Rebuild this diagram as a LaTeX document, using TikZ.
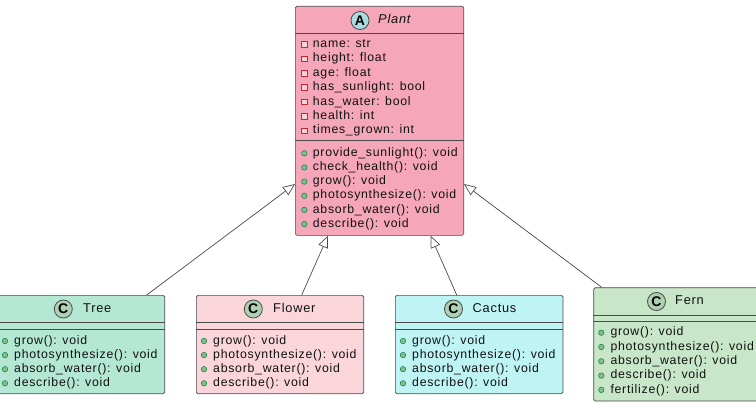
\documentclass[tikz,border=0pt]{standalone}
\usepackage{fontspec}
\setmainfont{Liberation Sans}[LetterSpace=6]
\usetikzlibrary{arrows.meta,calc}
\definecolor{plantC}{HTML}{F5A7B9}
\definecolor{treeC}{HTML}{B4E8D4}
\definecolor{flowerC}{HTML}{FAD5DA}
\definecolor{cactusC}{HTML}{BFF4F5}
\definecolor{fernC}{HTML}{C8E6C8}
\definecolor{absC}{HTML}{A9DCDF}
\definecolor{clsC}{HTML}{ADD1B2}
\definecolor{lineC}{HTML}{4A4A4A}
\definecolor{privR}{HTML}{C82930}
\definecolor{privF}{HTML}{F6D3D6}
\definecolor{pubG}{HTML}{038048}
\definecolor{pubF}{HTML}{84BE84}
\definecolor{txtC}{HTML}{111111}
\begin{document}
\begin{tikzpicture}[x=1pt,y=-1pt,
  umlbox/.style={draw=lineC, line width=0.7pt, rounded corners=1.5pt, anchor=north west, inner sep=0pt},
  sepline/.style={draw=lineC, line width=0.7pt},
  mem/.style={anchor=west, inner sep=0pt, text height=9pt, text depth=2.6pt, text=txtC, font=\fontsize{12.3}{14}\selectfont},
  hdr/.style={anchor=west, inner sep=0pt, text height=9pt, text depth=2.6pt, text=txtC, font=\fontsize{12.8}{14}\selectfont},
  privicon/.style={draw=privR, fill=privF, line width=0.6pt, minimum size=5.5pt, inner sep=0pt},
  pubicon/.style={circle, draw=pubG, fill=pubF, line width=0.5pt, minimum size=5.5pt, inner sep=0pt},
  spot/.style={circle, draw=lineC, line width=0.8pt, minimum size=18pt, inner sep=0pt, font=\fontsize{14}{14}\selectfont\bfseries},
  inh/.style={draw=lineC, line width=0.7pt, -{Triangle[open, length=12pt, width=10pt]}}
]
\useasboundingbox (0,0) rectangle (756,404);

% ---------- Plant ----------
\node[umlbox, fill=plantC, minimum width=168.3pt, minimum height=229pt] (plant) at (295,6) {};
\draw[sepline] ($(plant.north west)+(0,27.3)$) -- ($(plant.north east)+(0,27.3)$);
\draw[sepline] ($(plant.north west)+(0,134)$) -- ($(plant.north east)+(0,134)$);
\node[spot, fill=absC] (plantS) at (360,20.5) {A};
\node[hdr, font=\fontsize{12.8}{14}\selectfont\itshape] (plantN) at (378,20.5) {Plant};
\foreach \t [count=\i from 0] in {{name: str},{height: float},{age: float},{has\_sunlight: bool},{has\_water: bool},{health: int},{times\_grown: int}}{
  \node[privicon] (pai\i) at (304.3,44.3+14.4*\i) {};
  \node[mem] (pat\i) at (312.7,44.3+14.4*\i) {\t};
}
\foreach \t [count=\i from 0] in {{provide\_sunlight(): void},{check\_health(): void},{grow(): void},{photosynthesize(): void},{absorb\_water(): void},{describe(): void}}{
  \node[pubicon] (pmi\i) at (304.3,153.3+14.15*\i) {};
  \node[mem] (pmt\i) at (312.7,153.3+14.15*\i) {\t};
}

% ---------- Tree ----------
\node[umlbox, fill=treeC, minimum width=167.3pt, minimum height=98.3pt] (tree) at (-3,295) {};
\draw[sepline] ($(tree.north west)+(0,27.7)$) -- ($(tree.north east)+(0,27.7)$);
\draw[sepline] ($(tree.north west)+(0,34.3)$) -- ($(tree.north east)+(0,34.3)$);
\node[spot, fill=clsC] (treeS) at (63.3,309) {C};
\node[hdr] (treeN) at (83,309) {Tree};
\foreach \t [count=\i from 0] in {{grow(): void},{photosynthesize(): void},{absorb\_water(): void},{describe(): void}}{
  \node[pubicon] (tmi\i) at (5,341+14.1*\i) {};
  \node[mem] (tmt\i) at (14,341+14.1*\i) {\t};
}

% ---------- Flower ----------
\node[umlbox, fill=flowerC, minimum width=167.3pt, minimum height=98.3pt] (flower) at (196,295) {};
\draw[sepline] ($(flower.north west)+(0,27.7)$) -- ($(flower.north east)+(0,27.7)$);
\draw[sepline] ($(flower.north west)+(0,34.3)$) -- ($(flower.north east)+(0,34.3)$);
\node[spot, fill=clsC] (flowerS) at (253.3,309) {C};
\node[hdr] (flowerN) at (273,309) {Flower};
\foreach \t [count=\i from 0] in {{grow(): void},{photosynthesize(): void},{absorb\_water(): void},{describe(): void}}{
  \node[pubicon] (fmi\i) at (204,341+14.1*\i) {};
  \node[mem] (fmt\i) at (213,341+14.1*\i) {\t};
}

% ---------- Cactus ----------
\node[umlbox, fill=cactusC, minimum width=167.7pt, minimum height=98.3pt] (cactus) at (395,295) {};
\draw[sepline] ($(cactus.north west)+(0,27.7)$) -- ($(cactus.north east)+(0,27.7)$);
\draw[sepline] ($(cactus.north west)+(0,34.3)$) -- ($(cactus.north east)+(0,34.3)$);
\node[spot, fill=clsC] (cactusS) at (453.5,309) {C};
\node[hdr] (cactusN) at (472.5,309) {Cactus};
\foreach \t [count=\i from 0] in {{grow(): void},{photosynthesize(): void},{absorb\_water(): void},{describe(): void}}{
  \node[pubicon] (cmi\i) at (403,341+14.1*\i) {};
  \node[mem] (cmt\i) at (412,341+14.1*\i) {\t};
}

% ---------- Fern ----------
\node[umlbox, fill=fernC, minimum width=167.7pt, minimum height=113.4pt] (fern) at (593.3,287.3) {};
\draw[sepline] ($(fern.north west)+(0,27.7)$) -- ($(fern.north east)+(0,27.7)$);
\draw[sepline] ($(fern.north west)+(0,34.4)$) -- ($(fern.north east)+(0,34.4)$);
\node[spot, fill=clsC] (fernS) at (656.5,301.5) {C};
\node[hdr] (fernN) at (675,301.5) {Fern};
\foreach \t [count=\i from 0] in {{grow(): void},{photosynthesize(): void},{absorb\_water(): void},{describe(): void},{fertilize(): void}}{
  \node[pubicon] (emi\i) at (601.3,332.7+14.3*\i) {};
  \node[mem] (emt\i) at (610.3,332.7+14.3*\i) {\t};
}

% ---------- Inheritance ----------
\draw[inh] ($(tree.north west)+(149.7,0)$) -- ($(plant.north west)+(0,178)$);
\draw[inh] ($(flower.north west)+(105.7,0)$) -- ($(plant.south west)+(33,0)$);
\draw[inh] ($(cactus.north west)+(61.7,0)$) -- ($(plant.south west)+(135.6,0)$);
\draw[inh] ($(fern.north west)+(8.4,0)$) -- ($(plant.north east)+(0,178)$);
\end{tikzpicture}
\end{document}
